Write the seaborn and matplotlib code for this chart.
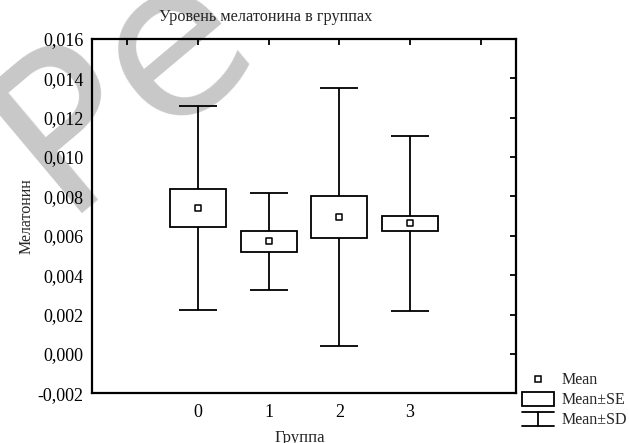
import numpy as np
import pandas as pd
import seaborn as sns
import matplotlib
matplotlib.use("Agg")
import matplotlib.pyplot as plt
from matplotlib.lines import Line2D
from matplotlib.patches import Rectangle
from matplotlib.legend_handler import HandlerBase

# group statistics
groups = [0, 1, 2, 3]
mean = [0.00741, 0.00572, 0.00695, 0.00663]
se = [0.00096, 0.00055, 0.00108, 0.00038]
sd = [0.00518, 0.00248, 0.00656, 0.00446]
yticks = [-0.002, 0.000, 0.002, 0.004, 0.006, 0.008, 0.010, 0.012, 0.014, 0.016]

df = pd.DataFrame({"group": groups, "mean": mean, "se": se, "sd": sd})

sns.set_style("white")
plt.rcParams["font.family"] = ["Liberation Serif", "DejaVu Serif"]
plt.rcParams["font.size"] = 11.5

fig = plt.figure(figsize=(6.29, 4.43), dpi=100)
ax = fig.add_axes([0.1463, 0.1122, 0.6740, 0.7998])
ax.set_facecolor("none")

# SD whiskers with caps
ax.errorbar(df["group"], df["mean"], yerr=df["sd"], fmt="none", ecolor="black",
            elinewidth=1.3, capsize=14, capthick=1.3, zorder=1)
# SE boxes
ax.bar(df["group"], 2 * df["se"], bottom=df["mean"] - df["se"], width=0.79,
       color="white", edgecolor="black", linewidth=1.3, zorder=2)
# means
sns.scatterplot(data=df, x="group", y="mean", marker="s", s=17, color="white",
                edgecolor="black", linewidth=1.1, zorder=3, ax=ax)

ax.set_xlim(-1.5, 4.5)
ax.set_ylim(-0.002, 0.016)
ax.set_xticks([-1, 0, 1, 2, 3, 4])
ax.set_xticklabels(["", "0", "1", "2", "3", ""])
ax.set_yticks(yticks)
ax.set_yticklabels([f"{v:.3f}".replace(".", ",") for v in yticks])
ax.tick_params(direction="in", length=4, width=1.3, top=True, right=True,
               labeltop=False, labelright=False, labelsize=13, colors="black")
ax.tick_params(axis="y", pad=6)
ax.tick_params(axis="x", pad=8)
for s in ax.spines.values():
    s.set_color("black")
    s.set_linewidth(1.6)

fig.text(266 / 629, 1 - 17 / 443, "Уровень мелатонина в группах", fontsize=11.7,
         ha="center", va="center")
ax.set_xlabel("Группа", fontsize=12)
ax.xaxis.set_label_coords(0.49, -0.105)
ax.set_ylabel("Мелатонин", fontsize=11.5)
ax.yaxis.set_label_coords(-0.136, 0.5)


class SEHandler(HandlerBase):
    def create_artists(self, legend, orig, xd, yd, w, h, fs, trans):
        r = Rectangle((xd, yd - 1), w, h + 2, facecolor="white", edgecolor="black",
                      linewidth=1.3, transform=trans)
        return [r]


class SDHandler(HandlerBase):
    def create_artists(self, legend, orig, xd, yd, w, h, fs, trans):
        kw = dict(color="black", linewidth=1.3, transform=trans)
        return [Line2D([xd, xd + w], [yd + h + 1, yd + h + 1], **kw),
                Line2D([xd + w / 2, xd + w / 2], [yd - 1, yd + h + 1], **kw),
                Line2D([xd, xd + w], [yd - 1, yd - 1], **kw)]


mean_h = Line2D([], [], marker="s", linestyle="none", markersize=4.5,
                markerfacecolor="white", markeredgecolor="black", markeredgewidth=1.1)
se_h = object()
sd_h = object()
fig.legend([mean_h, se_h, sd_h], ["Mean", "Mean±SE", "Mean±SD"],
           handler_map={se_h: SEHandler(), sd_h: SDHandler()},
           loc="lower left", bbox_to_anchor=(0.83, 0.033), frameon=False,
           fontsize=11.5, handlelength=2.0, handletextpad=0.45,
           labelspacing=0.25, borderpad=0, borderaxespad=0)

# faint watermark behind the chart
fig.text(123 / 629, 1 - 83 / 443, "Ре", fontsize=155, rotation=40, color="#c8c8c8",
         ha="center", va="center", family="DejaVu Sans", zorder=-1)

fig.savefig("out.png", dpi=100)
